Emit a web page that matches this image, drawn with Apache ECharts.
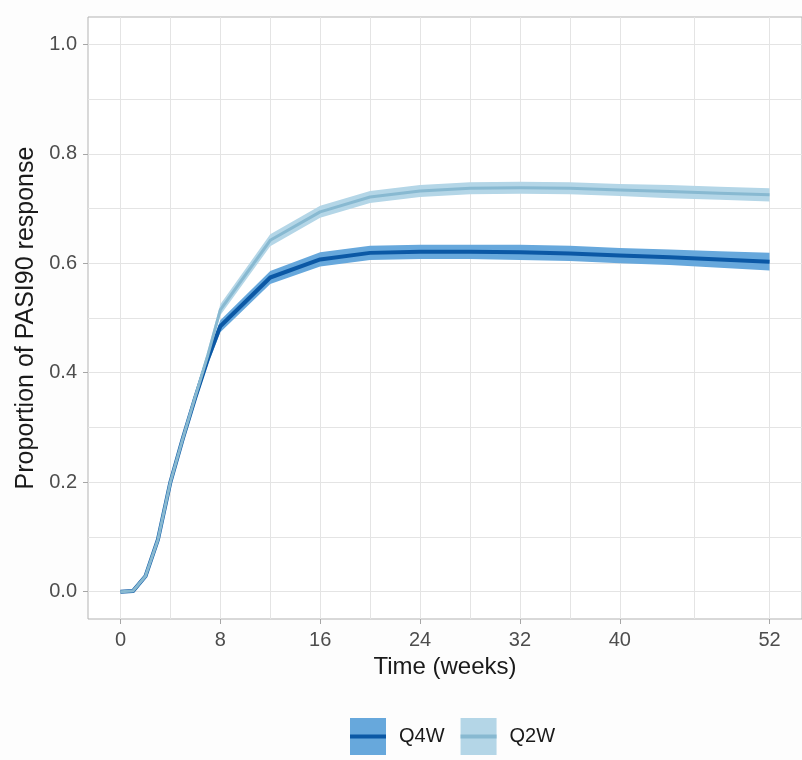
<!DOCTYPE html>
<html><head><meta charset="utf-8">
<script src="https://cdn.jsdelivr.net/npm/echarts@6/dist/echarts.min.js"></script>
<style>html,body{margin:0;padding:0;background:#fdfdfd}#c{width:802px;height:760px}</style>
</head><body><div id="c"></div><script>
// ---- data ----
const weeks   = [0, 1, 2, 3, 4, 5, 6, 7, 8, 12, 16, 20, 24, 28, 32, 36, 40, 44, 48, 52];
const q4wMean = [0, 0.001, 0.028, 0.095, 0.2, 0.28, 0.355, 0.425, 0.485, 0.574, 0.607, 0.619, 0.621, 0.621, 0.620, 0.618, 0.614, 0.611, 0.607, 0.603];
const q4wLow  = [0, 0.000, 0.025, 0.090, 0.193, 0.272, 0.346, 0.415, 0.474, 0.562, 0.594, 0.606, 0.608, 0.608, 0.606, 0.604, 0.600, 0.597, 0.592, 0.587];
const q4wHigh = [0, 0.002, 0.031, 0.100, 0.207, 0.288, 0.364, 0.435, 0.496, 0.586, 0.620, 0.632, 0.634, 0.634, 0.634, 0.632, 0.628, 0.625, 0.622, 0.619];
const q2wMean = [0, 0.001, 0.028, 0.095, 0.2, 0.28, 0.357, 0.432, 0.515, 0.642, 0.694, 0.721, 0.732, 0.737, 0.738, 0.737, 0.734, 0.731, 0.728, 0.725];
const q2wLow  = [0, 0.000, 0.025, 0.090, 0.194, 0.273, 0.349, 0.423, 0.505, 0.631, 0.683, 0.710, 0.721, 0.726, 0.727, 0.726, 0.723, 0.719, 0.716, 0.713];
const q2wHigh = [0, 0.002, 0.031, 0.100, 0.206, 0.287, 0.365, 0.441, 0.525, 0.653, 0.705, 0.732, 0.743, 0.748, 0.749, 0.748, 0.745, 0.743, 0.740, 0.737];
const seriesNames = ['Q4W', 'Q2W'];
const xTickLabels = [0, 8, 16, 24, 32, 40, 52];
const xGridValues = [0, 4, 8, 12, 16, 20, 24, 28, 32, 36, 40, 46, 52];
const yTickLabels = [0, 0.2, 0.4, 0.6, 0.8, 1.0];
const yGridValues = [0, 0.1, 0.2, 0.3, 0.4, 0.5, 0.6, 0.7, 0.8, 0.9, 1.0];

// ---- styles ----
const FONT = '"Liberation Sans", Arial, sans-serif';
const fillQ4W = '#67a8dc', lineQ4W = '#0b58a5';
const fillQ2W = '#b4d6e7', lineQ2W = '#88b9d1';
const gridColor = '#e4e4e4', borderColor = '#b3b3b3', tickColor = '#a6a6a6';

function ribbon(lo, hi, color) {
  return function (params, api) {
    if (params.dataIndex !== 0) return;
    const pts = [];
    for (let i = 0; i < weeks.length; i++) pts.push(api.coord([weeks[i], hi[i]]));
    for (let i = weeks.length - 1; i >= 0; i--) pts.push(api.coord([weeks[i], lo[i]]));
    return { type: 'polygon', shape: { points: pts }, style: { fill: color } };
  };
}

const chart = echarts.init(document.getElementById('c'), null, { renderer: 'canvas' });
const legendCommon = {
  left: 350, orient: 'horizontal', itemWidth: 36, itemGap: 16, selectedMode: false, padding: 0,
  textStyle: { fontFamily: FONT, fontSize: 20, lineHeight: 20, color: '#1a1a1a', padding: [0, 0, 0, 8] }
};
chart.setOption({
  backgroundColor: '#fdfdfd',
  animation: false,
  textStyle: { fontFamily: FONT },
  grid: { left: 88, top: 17, right: -3, bottom: 141, show: true, backgroundColor: '#ffffff',
          borderColor: borderColor, borderWidth: 1 },
  legend: [
    Object.assign({}, legendCommon, {
      top: 718, itemHeight: 37,
      data: [
        { name: seriesNames[0], icon: 'rect', itemStyle: { color: fillQ4W, borderWidth: 0 } },
        { name: seriesNames[1], icon: 'rect', itemStyle: { color: fillQ2W, borderWidth: 0 } }
      ]
    }),
    Object.assign({}, legendCommon, {
      top: 726.5, itemHeight: 4,
      textStyle: Object.assign({}, legendCommon.textStyle, { color: 'rgba(0,0,0,0)' }),
      data: [
        { name: seriesNames[0], icon: 'rect', itemStyle: { color: lineQ4W, borderWidth: 0 } },
        { name: seriesNames[1], icon: 'rect', itemStyle: { color: lineQ2W, borderWidth: 0 } }
      ]
    })
  ],
  xAxis: [{
    type: 'value', min: -2.6, max: 54.6,
    axisLine: { show: false, onZero: false },
    axisTick: { show: false, customValues: xGridValues },
    splitLine: { show: true, lineStyle: { color: gridColor, width: 1 } },
    axisLabel: { customValues: xTickLabels, fontSize: 20, color: '#4d4d4d', margin: 11, fontFamily: FONT },
    name: 'Time (weeks)', nameLocation: 'middle', nameGap: 36,
    nameTextStyle: { fontSize: 24, color: '#1a1a1a', fontFamily: FONT }
  }, {
    type: 'value', min: -2.6, max: 54.6, position: 'bottom',
    axisLine: { show: false, onZero: false },
    axisTick: { show: true, inside: false, customValues: xTickLabels, length: 5, lineStyle: { color: tickColor, width: 1 } },
    axisLabel: { show: false }, splitLine: { show: false }
  }],
  yAxis: [{
    type: 'value', min: -0.05, max: 1.05,
    axisLine: { show: false, onZero: false },
    axisTick: { show: false, customValues: yGridValues },
    splitLine: { show: true, lineStyle: { color: gridColor, width: 1 } },
    axisLabel: { customValues: yTickLabels, fontSize: 20, color: '#4d4d4d', margin: 11, fontFamily: FONT,
                 formatter: v => v.toFixed(1) },
    name: 'Proportion of PASI90 response', nameLocation: 'middle', nameGap: 40, nameRotate: 90,
    nameTextStyle: { fontSize: 25, color: '#1a1a1a', fontFamily: FONT }
  }, {
    type: 'value', min: -0.05, max: 1.05, position: 'left',
    axisLine: { show: false, onZero: false },
    axisTick: { show: true, inside: false, customValues: yTickLabels, length: 5, lineStyle: { color: tickColor, width: 1 } },
    axisLabel: { show: false }, splitLine: { show: false }
  }],
  series: [
    { name: seriesNames[0], type: 'custom', z: 2, xAxisIndex: 0, yAxisIndex: 0,
      renderItem: ribbon(q4wLow, q4wHigh, fillQ4W), itemStyle: { color: fillQ4W },
      encode: { x: 0, y: [1, 2] }, data: weeks.map((t, i) => [t, q4wLow[i], q4wHigh[i]]), silent: true },
    { name: seriesNames[1], type: 'custom', z: 2, xAxisIndex: 0, yAxisIndex: 0,
      renderItem: ribbon(q2wLow, q2wHigh, fillQ2W), itemStyle: { color: fillQ2W },
      encode: { x: 0, y: [1, 2] }, data: weeks.map((t, i) => [t, q2wLow[i], q2wHigh[i]]), silent: true },
    { name: seriesNames[0], type: 'line', z: 3, showSymbol: false, symbol: 'none',
      lineStyle: { color: lineQ4W, width: 4, join: 'round' }, itemStyle: { color: lineQ4W },
      data: weeks.map((t, i) => [t, q4wMean[i]]), silent: true },
    { name: seriesNames[1], type: 'line', z: 4, showSymbol: false, symbol: 'none',
      lineStyle: { color: lineQ2W, width: 3, join: 'round' }, itemStyle: { color: lineQ2W },
      data: weeks.map((t, i) => [t, q2wMean[i]]), silent: true }
  ]
});
</script></body></html>
